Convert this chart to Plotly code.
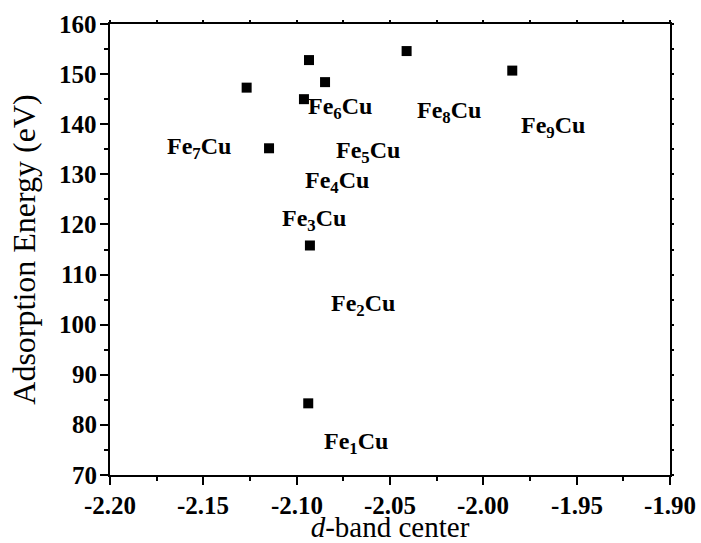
import plotly.graph_objects as go

# data
d_band = [-2.0938, -2.0929, -2.0934, -2.0848, -2.0961, -2.1268, -2.1148, -2.0411, -1.9845]
energy = [84.3, 115.8, 152.8, 148.4, 145.0, 147.3, 135.2, 154.6, 150.7]

labels = ["Fe<sub>1</sub>Cu", "Fe<sub>2</sub>Cu", "Fe<sub>3</sub>Cu", "Fe<sub>4</sub>Cu",
          "Fe<sub>5</sub>Cu", "Fe<sub>6</sub>Cu", "Fe<sub>7</sub>Cu", "Fe<sub>8</sub>Cu",
          "Fe<sub>9</sub>Cu"]
label_x = [-2.0682, -2.0642, -2.0907, -2.0784, -2.0618, -2.0768, -2.1521, -2.0182, -1.9625]
label_y = [76.4, 103.9, 120.9, 128.5, 134.5, 143.2, 135.3, 142.5, 139.5]

x_ticks = [-2.20, -2.15, -2.10, -2.05, -2.00, -1.95, -1.90]
y_ticks = [70, 80, 90, 100, 110, 120, 130, 140, 150, 160]

FONT = "Liberation Serif"
TICKFONT = dict(family=FONT, size=25, color="black")

fig = go.Figure()
fig.add_trace(go.Scatter(
    x=d_band, y=energy, mode="markers",
    marker=dict(symbol="square", size=10, color="black"),
    showlegend=False, hoverinfo="skip"))

for t, lx, ly in zip(labels, label_x, label_y):
    fig.add_annotation(x=lx, y=ly, text="<b>" + t + "</b>", showarrow=False,
                       xanchor="center", yanchor="middle",
                       font=dict(family=FONT, size=24, color="black"))

# tick labels as text
for v in x_ticks:
    fig.add_annotation(x=v, xref="x", y=0, yref="paper", text="<b>%.2f</b>" % v,
                       showarrow=False, xanchor="center", yanchor="middle",
                       yshift=-30, font=TICKFONT)
for v in y_ticks:
    fig.add_annotation(x=0, xref="paper", y=v, yref="y", text="<b>%d</b>" % v,
                       showarrow=False, xanchor="right", yanchor="middle",
                       xshift=-11, font=TICKFONT)

fig.update_layout(
    template="none",
    width=701, height=543,
    margin=dict(l=110, r=31, t=24, b=68),
    paper_bgcolor="white", plot_bgcolor="white",
    font=dict(family=FONT, color="black"),
    xaxis=dict(
        range=[-2.20, -1.90], tickmode="array", tickvals=x_ticks,
        showticklabels=False,
        showgrid=False, zeroline=False,
        showline=True, linecolor="black", linewidth=2,
        ticks="outside", ticklen=8, tickwidth=2, tickcolor="black",
        minor=dict(ticks="outside", ticklen=4, tickwidth=2, tickcolor="black",
                   tickmode="array", tickvals=[-2.175, -2.125, -2.075, -2.025, -1.975, -1.925]),
        title=dict(text="<i>d</i>-band center", font=dict(family=FONT, size=29, color="black"),
                   standoff=33),
    ),
    yaxis=dict(
        range=[70, 160], tickmode="array", tickvals=y_ticks,
        showticklabels=False,
        showgrid=False, zeroline=False,
        showline=True, linecolor="black", linewidth=2,
        ticks="outside", ticklen=8, tickwidth=2, tickcolor="black",
        minor=dict(ticks="outside", ticklen=4, tickwidth=2, tickcolor="black",
                   tickmode="array", tickvals=[75, 85, 95, 105, 115, 125, 135, 145, 155]),
        title=dict(text="Adsorption Energy (eV)", font=dict(family=FONT, size=32, color="black"),
                   standoff=55),
    ),
    xaxis2=dict(
        overlaying="x", side="top", range=[-2.20, -1.90],
        showgrid=False, zeroline=False, showticklabels=False,
        showline=True, linecolor="black", linewidth=2,
        ticks="outside", ticklen=2, tickwidth=2, tickcolor="black",
        tick0=-2.2, dtick=0.025,
    ),
    yaxis2=dict(
        overlaying="y", side="right", range=[70, 160],
        showgrid=False, zeroline=False, showticklabels=False,
        showline=True, linecolor="black", linewidth=2,
        ticks="outside", ticklen=2, tickwidth=2, tickcolor="black",
        tick0=70, dtick=5,
    ),
)
fig.add_trace(go.Scatter(x=[None], y=[None], xaxis="x2", yaxis="y2",
                         showlegend=False, hoverinfo="skip"))

fig.write_html("out.html")
